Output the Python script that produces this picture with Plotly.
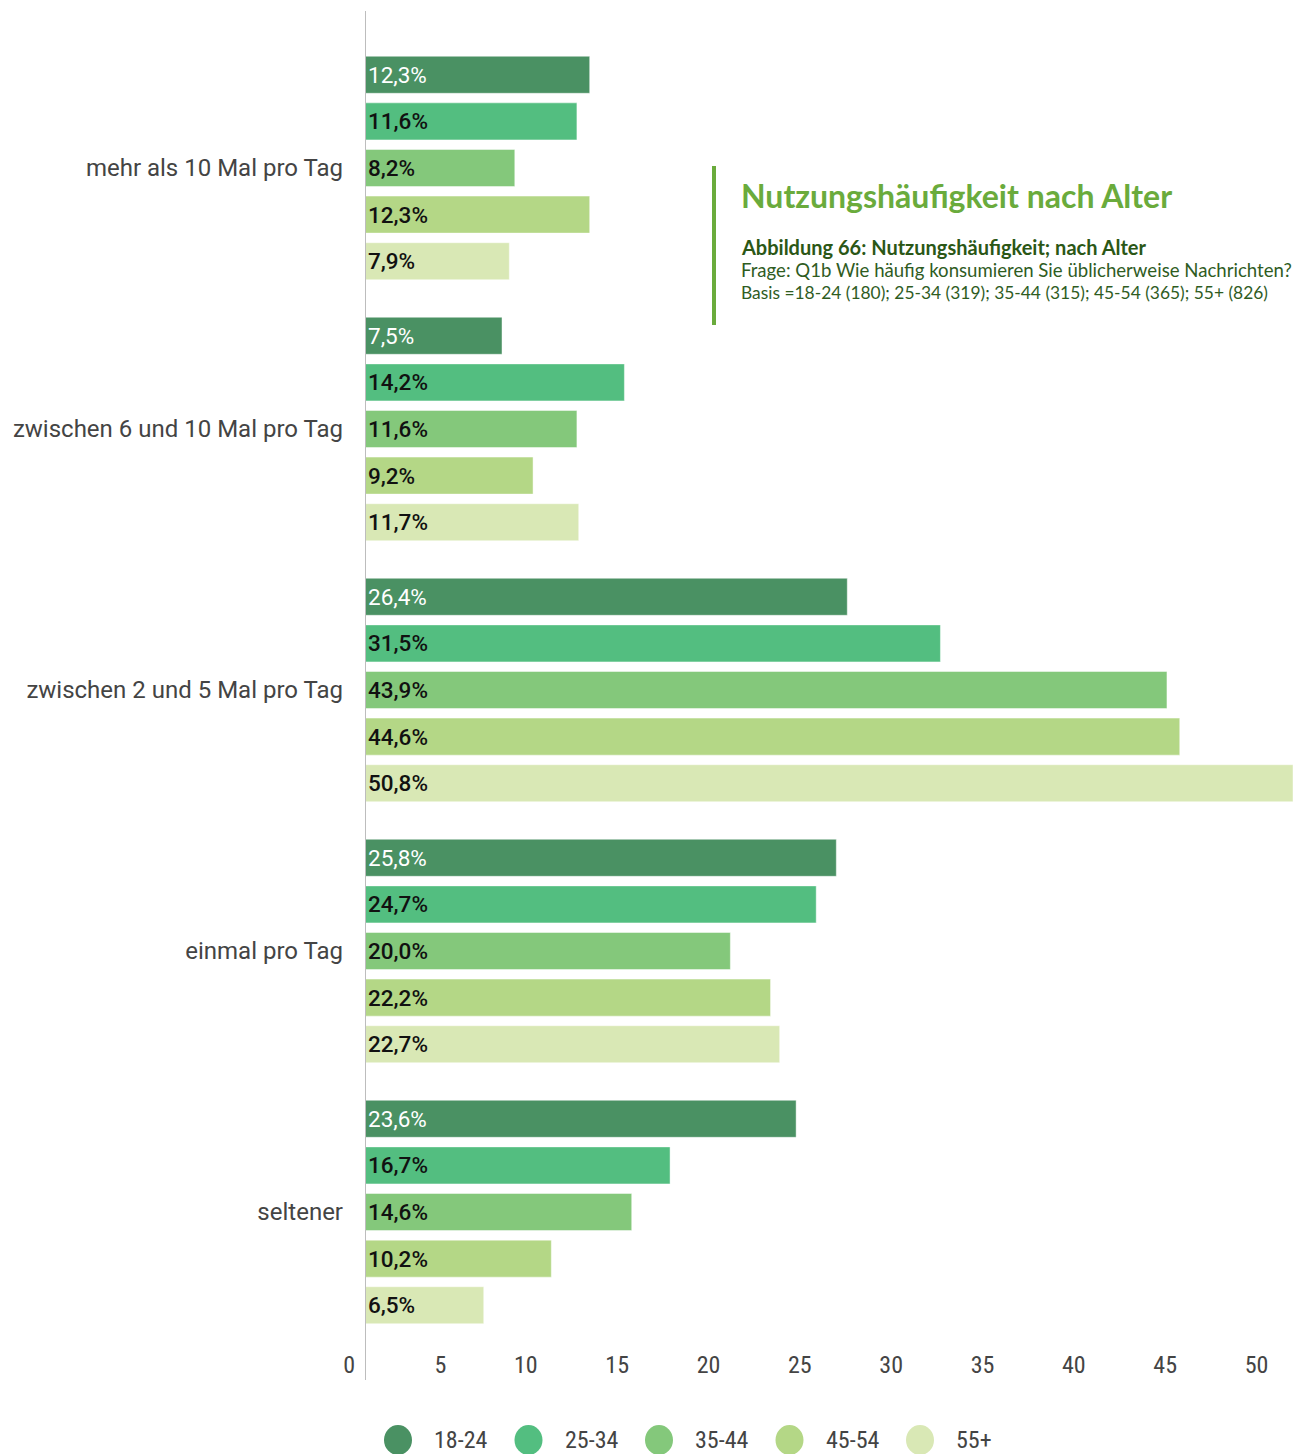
import plotly.graph_objects as go

# Frequency categories (top to bottom) and age groups
categories = [
    "mehr als 10 Mal pro Tag",
    "zwischen 6 und 10 Mal pro Tag",
    "zwischen 2 und 5 Mal pro Tag",
    "einmal pro Tag",
    "seltener",
]
age_groups = ["18-24", "25-34", "35-44", "45-54", "55+"]

# Share of respondents in percent, one list per age group
values_18_24 = [12.3, 7.5, 26.4, 25.8, 23.6]
values_25_34 = [11.6, 14.2, 31.5, 24.7, 16.7]
values_35_44 = [8.2, 11.6, 43.9, 20.0, 14.6]
values_45_54 = [12.3, 9.2, 44.6, 22.2, 10.2]
values_55_plus = [7.9, 11.7, 50.8, 22.7, 6.5]
series_values = [values_18_24, values_25_34, values_35_44, values_45_54, values_55_plus]

x_ticks = [0, 5, 10, 15, 20, 25, 30, 35, 40, 45, 50]

colors = ["#4a9163", "#53be80", "#84c87b", "#b4d786", "#d9e8b5"]
label_colors = ["#ffffff", "#111111", "#111111", "#111111", "#111111"]
label_weights = [400, 500, 500, 500, 500]

title_text = "Nutzungshäufigkeit nach Alter"
subtitle_text = "Abbildung 66: Nutzungshäufigkeit; nach Alter"
question_text = "Frage: Q1b Wie häufig konsumieren Sie üblicherweise Nachrichten?"
basis_text = "Basis =18-24 (180); 25-34 (319); 35-44 (315); 45-54 (365); 55+ (826)"

NARROW = "Liberation Sans Narrow, Roboto Condensed, Roboto"

# Page geometry (pixels)
W, H = 1299, 1454
L, R, T, B = 365, 6, 11, 106
plot_w = W - L - R
plot_h = H - T - B


def px_x(px):
    return (px - L) / plot_w


def px_y(py):
    return (H - B - py) / plot_h


def pct(v):
    return f"{v:.1f}%".replace(".", ",")


fig = go.Figure()
for name, vals, col, tcol, tw in zip(age_groups, series_values, colors,
                                     label_colors, label_weights):
    fig.add_trace(go.Bar(
        name=name,
        y=categories,
        x=vals,
        orientation="h",
        marker=dict(color=col, line=dict(color="rgba(255,255,255,0.45)", width=1)),
        text=[pct(v) for v in vals],
        textposition="inside",
        insidetextanchor="start",
        textfont=dict(family="Roboto", size=22.5, color=tcol, weight=tw),
        constraintext="none",
        showlegend=False,
        hoverinfo="skip",
    ))

fig.update_layout(
    width=W,
    height=H,
    margin=dict(l=L, r=R, t=T, b=B, pad=0),
    paper_bgcolor="white",
    plot_bgcolor="white",
    barmode="group",
    bargap=0.107,
    bargroupgap=0.206,
    xaxis=dict(
        range=[0, 50.8],
        tickvals=x_ticks,
        ticktext=[str(t) for t in x_ticks],
        ticklabelposition="outside left",
        ticklabelshift=-10,
        showgrid=False,
        zeroline=False,
        showline=False,
        ticks="",
        tickfont=dict(family=NARROW, size=24, color="#444444"),
        fixedrange=True,
    ),
    yaxis=dict(
        type="category",
        range=[4.521, -0.6015],
        showgrid=False,
        zeroline=False,
        showline=False,
        ticks="",
        ticklabelstandoff=21,
        tickfont=dict(family="Roboto", size=24, color="#444444"),
        fixedrange=True,
    ),
    showlegend=False,
)

# Vertical baseline at zero, running below the plot down to the tick labels
fig.add_shape(type="line", xref="x", yref="paper", x0=0, x1=0,
              y0=px_y(1380), y1=1, line=dict(color="#bdbdbd", width=2), layer="above")

# Title block with a green accent bar
fig.add_shape(type="rect", xref="paper", yref="paper",
              x0=px_x(712), x1=px_x(716), y0=px_y(325), y1=px_y(166),
              fillcolor="#6aab3c", line=dict(width=0))
fig.add_annotation(xref="paper", yref="paper", x=px_x(739), y=px_y(196),
                   xanchor="left", yanchor="middle", showarrow=False,
                   text=f"<b>{title_text}</b>",
                   font=dict(family="Lato", size=32, color="#6aab3c"))
fig.add_annotation(xref="paper", yref="paper", x=px_x(739), y=px_y(247),
                   xanchor="left", yanchor="middle", showarrow=False,
                   text=f"<b>{subtitle_text}</b>",
                   font=dict(family="Lato", size=20, color="#2b5716"))
fig.add_annotation(xref="paper", yref="paper", x=px_x(739), y=px_y(270),
                   xanchor="left", yanchor="middle", showarrow=False,
                   text=question_text,
                   font=dict(family="Lato", size=18.6, color="#2f5c1f"))
fig.add_annotation(xref="paper", yref="paper", x=px_x(739), y=px_y(293),
                   xanchor="left", yanchor="middle", showarrow=False,
                   text=basis_text,
                   font=dict(family="Lato", size=17.4, color="#2f5c1f"))

# Legend: round swatches with the age group labels
legend_y = px_y(1440)
for i, (name, col) in enumerate(zip(age_groups, colors)):
    cx = px_x(398 + i * 130.5)
    fig.add_shape(type="circle", xref="paper", yref="paper",
                  xsizemode="pixel", ysizemode="pixel",
                  xanchor=cx, yanchor=legend_y,
                  x0=-14, x1=14, y0=-15, y1=15,
                  fillcolor=col, line=dict(width=0))
    fig.add_annotation(xref="paper", yref="paper",
                       x=px_x(432 + i * 130.5), y=legend_y,
                       xanchor="left", yanchor="middle", showarrow=False,
                       text=name,
                       font=dict(family=NARROW, size=24, color="#444444"))

fig.write_html("out.html")
